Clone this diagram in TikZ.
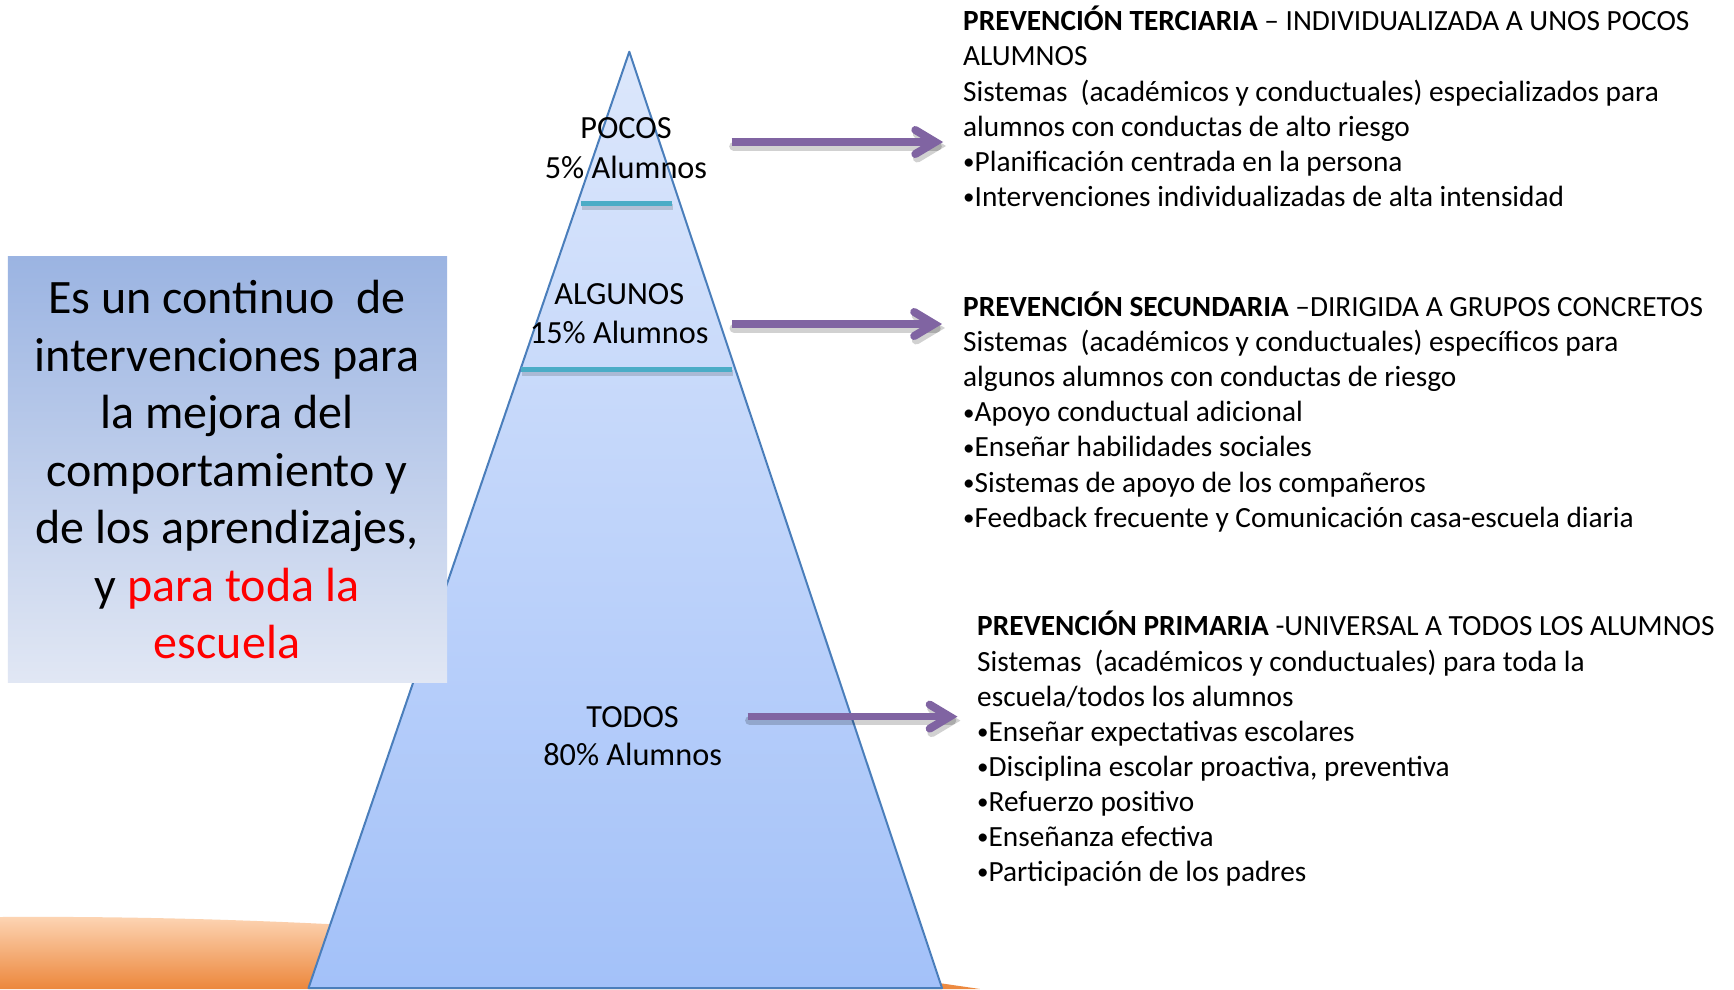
\documentclass[tikz,border=0pt]{standalone}
\usepackage{fontspec}
\setmainfont{Carlito}
\usetikzlibrary{calc}
\definecolor{pyredge}{HTML}{4A7EBB}
\definecolor{pyrtop}{HTML}{DCE7FB}
\definecolor{pyrbot}{HTML}{A3C1F9}
\definecolor{tealbar}{HTML}{4BACC6}
\definecolor{arrowpurple}{HTML}{8064A2}
\definecolor{boxtop}{HTML}{9BB4E2}
\definecolor{boxbot}{HTML}{E1E7F4}
\definecolor{hilltop}{HTML}{FDD6B6}
\definecolor{hillbot}{HTML}{EC873C}
\definecolor{redtext}{HTML}{FF0000}
\newcommand{\bul}{\raisebox{0.06em}{\fontsize{23}{23}\selectfont •}}
\tikzset{
  rtext/.style={anchor=base west, inner sep=0pt, font=\fontsize{29.3}{35}\selectfont},
  ptext/.style={anchor=base, inner sep=0pt, font=\fontsize{32.3}{38}\selectfont},
  btext/.style={anchor=base, inner sep=0pt, font=\fontsize{48}{57}\selectfont},
  shaft/.style={arrowpurple, line width=7.5pt, line cap=butt},
  chevron/.style={arrowpurple, line width=8pt, line cap=round, line join=miter},
  ashadow/.style={black, opacity=0.18, line width=9pt, line cap=round},
  bar/.style={tealbar, line width=5pt},
  barshadow/.style={black, opacity=0.15, line width=6pt},
}
\newcommand{\purplearrow}[2]{%
  \draw[ashadow] ($(#1)+(2,4)$) -- ($(#2)+(-6,4)$);
  \draw[ashadow] ($(#2)+(-26,-8)$) -- ($(#2)+(-6,4)$) -- ($(#2)+(-26,16)$);
  \draw[shaft] (#1) -- ($(#2)+(-7,0)$);
  \draw[chevron] ($(#2)+(-28,-12)$) -- ($(#2)+(-8,0)$) -- ($(#2)+(-28,12)$);
}
\begin{document}
\begin{tikzpicture}[x=1pt,y=-1pt]
\useasboundingbox (0,0) rectangle (1734,989);
\fill[white] (0,0) rectangle (1734,989);

% orange hill
\shade[top color=hilltop, bottom color=hillbot]
  (0,917) .. controls (314.7,914.9) and (641.3,938.9) .. (980,989) -- (0,989) -- cycle;

% pyramid
\coordinate (apex) at (629.3,51.7);
\coordinate (bl) at (308.5,988);
\coordinate (br) at (942,988);
\shade[top color=pyrtop, bottom color=pyrbot] (apex) -- (br) -- (bl) -- cycle;
\draw[pyredge, line width=2pt, line join=round] (apex) -- (br) -- (bl) -- cycle;

% teal separators
\coordinate (t1l) at (581,203);
\coordinate (t1r) at (672,203);
\coordinate (t2l) at (521,369);
\coordinate (t2r) at (732,369);
\draw[barshadow] ($(t1l)+(1,4)$) -- ($(t1r)+(1,4)$);
\draw[barshadow] ($(t2l)+(1,4)$) -- ($(t2r)+(1,4)$);
\draw[bar] (t1l) -- (t1r);
\draw[bar] (t2l) -- (t2r);

% left box
\node[anchor=north west, minimum width=439.1pt, minimum height=425.7pt, inner sep=0pt,
      top color=boxtop, bottom color=boxbot] (box) at (7.7,256.6) {};
\node[btext] (b1) at (227,313.5) {Es un continuo~ de};
\node[btext] (b2) at (227,371) {intervenciones para};
\node[btext] (b3) at (227,428.5) {la mejora del};
\node[btext] (b4) at (227,486) {comportamiento y};
\node[btext] (b5) at (227,543.5) {de los aprendizajes,};
\node[btext] (b6) at (227,601) {y \textcolor{redtext}{para toda la}};
\node[btext, text=redtext] (b7) at (227,658.5) {escuela};

% pyramid labels
\node[ptext] (p1) at (626,138.5) {POCOS};
\node[ptext] (p2) at (626,178) {5\% Alumnos};
\node[ptext] (p3) at (619.3,304.3) {ALGUNOS};
\node[ptext] (p4) at (619.3,343.3) {15\% Alumnos};
\node[ptext] (p5) at (632.6,727.8) {TODOS};
\node[ptext] (p6) at (632.6,765.5) {80\% Alumnos};

% arrows
\coordinate (a1s) at (731.7,142);
\coordinate (a1e) at (943.3,142);
\coordinate (a2s) at (732,324);
\coordinate (a2e) at (942.2,324);
\coordinate (a3s) at (747.6,716.6);
\coordinate (a3e) at (957.7,716.6);
\purplearrow{a1s}{a1e}
\purplearrow{a2s}{a2e}
\purplearrow{a3s}{a3e}

% block 1
\node[rtext] (r11) at (963,30.8) {\textbf{PREVENCIÓN TERCIARIA} – INDIVIDUALIZADA A UNOS POCOS};
\node[rtext] (r12) at (963,65.9) {ALUMNOS};
\node[rtext] (r13) at (963,101) {Sistemas~ (académicos y conductuales) especializados para};
\node[rtext] (r14) at (963,136.1) {alumnos con conductas de alto riesgo};
\node[rtext] (r15) at (963,171.2) {\bul Planificación centrada en la persona};
\node[rtext] (r16) at (963,206.3) {\bul Intervenciones individualizadas de alta intensidad};

% block 2
\node[rtext] (r21) at (963,316.5) {\textbf{PREVENCIÓN SECUNDARIA} –DIRIGIDA A GRUPOS CONCRETOS};
\node[rtext] (r22) at (963,351.6) {Sistemas~ (académicos y conductuales) específicos para};
\node[rtext] (r23) at (963,386.7) {algunos alumnos con conductas de riesgo};
\node[rtext] (r24) at (963,421.8) {\bul Apoyo conductual adicional};
\node[rtext] (r25) at (963,456.9) {\bul Enseñar habilidades sociales};
\node[rtext] (r26) at (963,492) {\bul Sistemas de apoyo de los compañeros};
\node[rtext] (r27) at (963,527.1) {\bul Feedback frecuente y Comunicación casa-escuela diaria};

% block 3
\node[rtext] (r31) at (977,635.9) {\textbf{PREVENCIÓN PRIMARIA} -UNIVERSAL A TODOS LOS ALUMNOS};
\node[rtext] (r32) at (977,671) {Sistemas~ (académicos y conductuales) para toda la};
\node[rtext] (r33) at (977,706.1) {escuela/todos los alumnos};
\node[rtext] (r34) at (977,741.2) {\bul Enseñar expectativas escolares};
\node[rtext] (r35) at (977,776.3) {\bul Disciplina escolar proactiva, preventiva};
\node[rtext] (r36) at (977,811.4) {\bul Refuerzo positivo};
\node[rtext] (r37) at (977,846.5) {\bul Enseñanza efectiva};
\node[rtext] (r38) at (977,881.6) {\bul Participación de los padres};
\end{tikzpicture}
\end{document}
